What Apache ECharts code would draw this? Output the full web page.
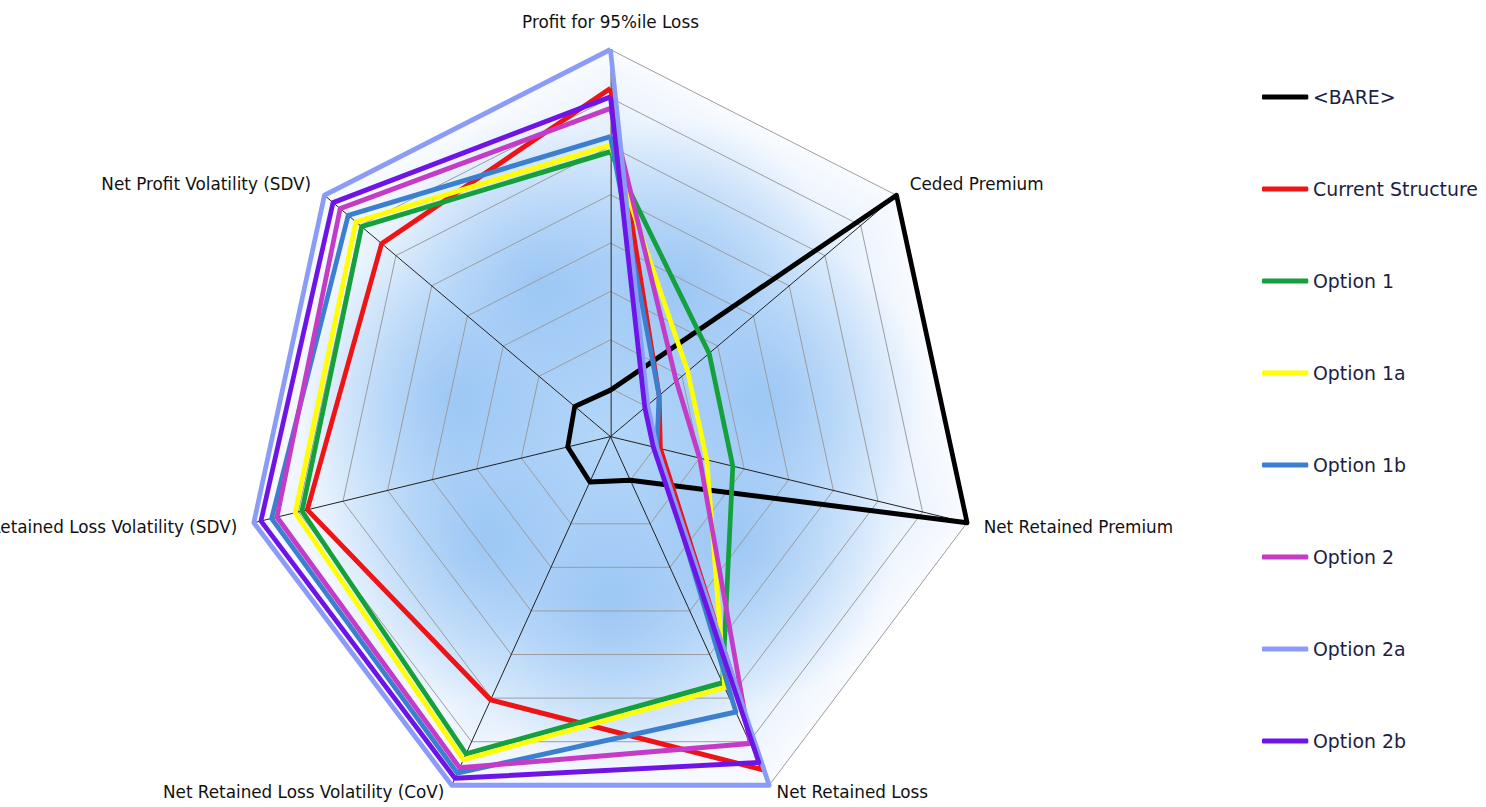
<!DOCTYPE html>
<html>
<head>
<meta charset="utf-8">
<title>Reinsurance structure comparison</title>
<script src="https://cdn.jsdelivr.net/npm/echarts@6.0.0/dist/echarts.min.js"></script>
<style>
  html, body { margin: 0; padding: 0; background: #ffffff; overflow: hidden; width: 1486px; height: 807px; }
  /* The radar is drawn in a slightly wider space and squeezed horizontally,
     which turns the regular heptagon into the flattened web of the original. */
  #chart { width: 1572px; height: 807px; transform: scaleX(0.94529); transform-origin: 0 0; }
</style>
</head>
<body>
<div id="chart"></div>
<script>
// Axes, listed clockwise from the top.
const categories = [
  'Profit for 95%ile Loss',
  'Ceded Premium',
  'Net Retained Premium',
  'Net Retained Loss',
  'Net Retained Loss Volatility (CoV)',
  'Net Retained Loss Volatility (SDV)',
  'Net Profit Volatility (SDV)'
];

const seriesNames = ['<BARE>', 'Current Structure', 'Option 1', 'Option 1a', 'Option 1b', 'Option 2', 'Option 2a', 'Option 2b'];
const seriesColors = ['#000000', '#ee1416', '#14a03c', '#ffff00', '#3b7fcf', '#c43bc8', '#8a9cf8', '#6f14e8'];

// Scores on each axis (0 = centre, 100 = outer ring), same order as categories.
const bare             = [12,   100,  100,  12.5, 13,   12,   12.5];
const currentStructure = [90,   17,   14,   95.5, 75.5, 85,   80];
const option1          = [73.6, 34.5, 34.3, 70.6, 91,   86.5, 87];
const option1a         = [75.3, 27,   27,   72,   92.7, 88.4, 89];
const option1b         = [77.5, 17,   13,   79,   96.5, 95,   91.7];
const option2          = [84.8, 23,   25,   88,   95,   93.5, 94.5];
const option2a         = [100,  13,   13,   100,  100,  100,  100];
const option2b         = [87.8, 12,   12,   93.5, 98,   98,   97];
const seriesValues = [bare, currentStructure, option1, option1a, option1b, option2, option2a, option2b];

// Axis names that sit under the web get lifted a line.
const lowerAxes = ['Net Retained Loss', 'Net Retained Loss Volatility (CoV)'];

const AXIS_MAX = 100;
const RINGS = 8;
const RADAR_CENTER = [645.8, 436.6];
const RADAR_RADIUS = 387;

// ECharts lays indicators out counter-clockwise; walk the list backwards
// (keeping the first at the top) so the axes run clockwise.
const order = [0].concat(categories.map((_, i) => i).slice(1).reverse());
const indicator = order.map(i => ({ name: categories[i], min: 0, max: AXIS_MAX }));

// Soft blue fill: one wedge per sector fading from the centre to the outer
// edge, with a brighter glow in the middle of each wedge.
function sectorBackdrop() {
  const n = categories.length;
  const [cx, cy] = RADAR_CENTER;
  const r = RADAR_RADIUS;
  const pt = k => {
    const a = 2 * Math.PI * k / n;
    return [cx + r * Math.sin(a), cy - r * Math.cos(a)];
  };
  const baseStops = [
    { offset: 0, color: '#b1d5f9' },
    { offset: 0.45, color: '#bcdafa' },
    { offset: 0.7, color: '#d8eafc' },
    { offset: 0.88, color: '#eef5fe' },
    { offset: 1, color: '#f9fbff' }
  ];
  const glowStops = [
    { offset: 0, color: 'rgba(128,182,240,0.55)' },
    { offset: 0.5, color: 'rgba(128,182,240,0.3)' },
    { offset: 1, color: 'rgba(128,182,240,0)' }
  ];
  const els = [];
  for (let k = 0; k < n; k++) {
    const p1 = pt(k), p2 = pt(k + 1);
    const mx = (p1[0] + p2[0]) / 2, my = (p1[1] + p2[1]) / 2;
    const tri = [[cx, cy], p1, p2];
    els.push({
      type: 'polygon', z: -20, silent: true,
      shape: { points: tri },
      style: { fill: new echarts.graphic.LinearGradient(cx, cy, mx, my, baseStops, true), stroke: null }
    });
    const gx = cx + (mx - cx) * 0.5, gy = cy + (my - cy) * 0.5;
    els.push({
      type: 'polygon', z: -19, silent: true,
      shape: { points: tri },
      style: { fill: new echarts.graphic.RadialGradient(gx, gy, r * 0.42, glowStops, true), stroke: null }
    });
  }
  return els;
}

const chart = echarts.init(document.getElementById('chart'), null, { renderer: 'svg' });

chart.setOption({
  backgroundColor: '#ffffff',
  animation: false,
  graphic: sectorBackdrop(),
  legend: {
    orient: 'vertical',
    left: 1330,
    top: 82,
    itemGap: 72,
    itemWidth: 49,
    itemHeight: 5,
    icon: 'roundRect',
    data: seriesNames,
    textStyle: { fontFamily: 'DejaVu Sans', fontSize: 20, lineHeight: 20, color: '#1b1e45' }
  },
  radar: {
    center: RADAR_CENTER,
    radius: RADAR_RADIUS,
    startAngle: 90,
    splitNumber: RINGS,
    shape: 'polygon',
    indicator: indicator,
    nameGap: 18,
    axisName: {
      color: '#111111', fontFamily: 'DejaVu Sans', fontSize: 17.8, lineHeight: 20,
      formatter: name => lowerAxes.indexOf(name) >= 0 ? name + '\n' : name
    },
    axisLine: { lineStyle: { color: '#1a1a1a', width: 1 } },
    splitLine: { lineStyle: { color: '#9a9a9a', width: 1 } },
    splitArea: { show: false },
    axisTick: { show: false },
    axisLabel: { show: false }
  },
  series: seriesNames.map((name, s) => ({
    type: 'radar',
    name: name,
    color: seriesColors[s],
    symbol: 'none',
    lineStyle: { width: 5, color: seriesColors[s] },
    data: [{ name: name, value: order.map(i => seriesValues[s][i]) }]
  }))
});
</script>
</body>
</html>
